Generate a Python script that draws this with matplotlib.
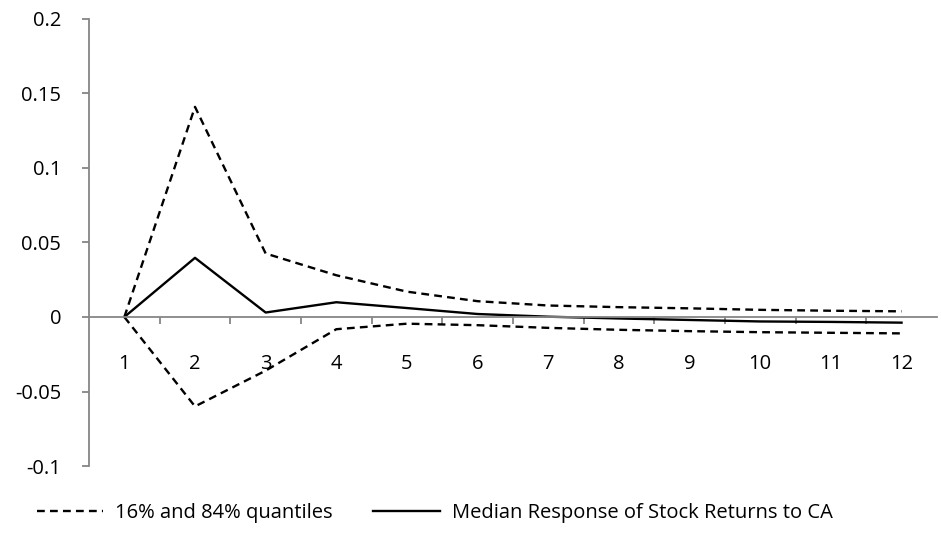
import numpy as np
import matplotlib
matplotlib.use('Agg')
import matplotlib.pyplot as plt
from matplotlib.ticker import FixedLocator, NullFormatter

plt.rcParams['font.family'] = ['Open Sans', 'DejaVu Sans']

# Дані.
periods = np.arange(1, 13)
median = [0.0, 0.0397, 0.003, 0.0099, 0.006, 0.002, 0.0002, -0.001, -0.002,
          -0.003, -0.0033, -0.0038]
upper = [0.0, 0.141, 0.0426, 0.028, 0.017, 0.0106, 0.0077, 0.0066, 0.0058,
         0.0048, 0.0042, 0.0038]
lower = [0.0, -0.060, -0.036, -0.0082, -0.0045, -0.0055, -0.0073, -0.0086,
         -0.0095, -0.0102, -0.0106, -0.011]
yticks = [-0.1, -0.05, 0, 0.05, 0.1, 0.15, 0.2]
ylabels = ['-0.1', '-0.05', '0', '0.05', '0.1', '0.15', '0.2']

fig = plt.figure(figsize=(9.41, 5.38), dpi=100)
ax = fig.add_axes([0.0946, 0.1338, 0.901, 0.831])

dash = (0, (3.3, 2.2))
ax.plot(periods, upper, color='black', lw=1.7, ls=dash,
        label='16% and 84% quantiles')
ax.plot(periods, lower, color='black', lw=1.7, ls=dash)
ax.plot(periods, median, color='black', lw=1.7,
        label='Median Response of Stock Returns to CA')

ax.set_xlim(0.5, 12.5)
ax.set_ylim(-0.1, 0.2)

grey = '#868686'
for s in ('top', 'right'):
    ax.spines[s].set_visible(False)
ax.spines['bottom'].set_position(('data', 0))
for s in ('bottom', 'left'):
    ax.spines[s].set_color(grey)
    ax.spines[s].set_linewidth(1.3)

ax.set_yticks(yticks)
ax.set_yticklabels(ylabels)
ax.tick_params(axis='y', direction='out', length=5, width=1.3, color=grey,
               labelsize=14.5, pad=15)

ax.set_xticks(periods)
ax.set_xticklabels([str(p) for p in periods])
ax.xaxis.set_minor_locator(FixedLocator(np.arange(1.5, 12.5, 1.0)))
ax.xaxis.set_minor_formatter(NullFormatter())
ax.tick_params(axis='x', which='major', length=0, labelsize=14.5, pad=27)
ax.tick_params(axis='x', which='minor', direction='out', length=5, width=1.3,
               color=grey)

fig.legend(loc='lower left', bbox_to_anchor=(0.02, -0.005), ncol=2,
           frameon=False, fontsize=14.5, handlelength=3.3, handletextpad=0.6,
           columnspacing=2.0)

fig.savefig('out.png', dpi=100)
